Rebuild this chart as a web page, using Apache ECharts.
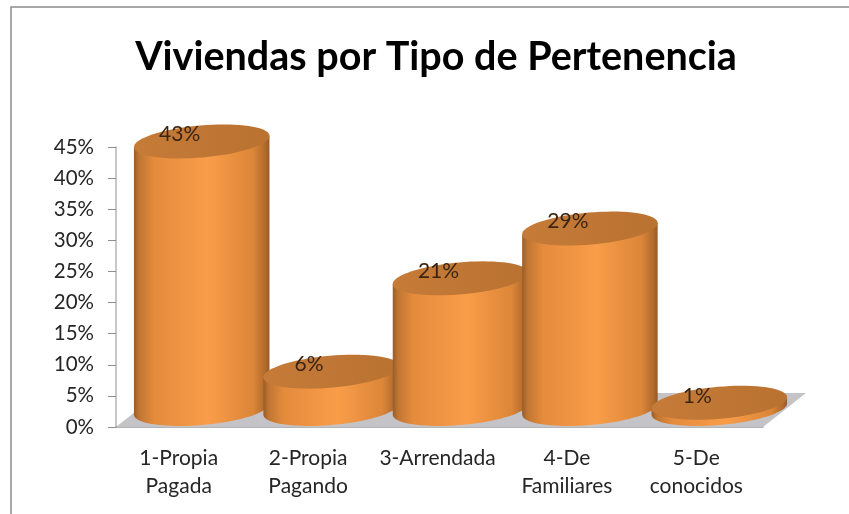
<!DOCTYPE html>
<html>
<head>
<meta charset="utf-8">
<title>Viviendas por Tipo de Pertenencia</title>
<style>
html, body { margin: 0; padding: 0; background: #fff; }
#chart { width: 849px; height: 514px; }
</style>
<script src="https://cdn.jsdelivr.net/npm/echarts@6/dist/echarts.min.js"></script>
</head>
<body>
<div id="chart"></div>
<script>
const categories = ['1-Propia\nPagada', '2-Propia\nPagando', '3-Arrendada', '4-De\nFamiliares', '5-De\nconocidos']
const percents = [43, 6, 21, 29, 1]
const yTicks = { min: 0, max: 45, interval: 5 }

// fake 3d: cylinders sit behind the axis plane, shifted up and right
const DEPTH_X = 21
const DEPTH_Y = -18
const RX = 68
const RY = 16
const TILT = -5 * Math.PI / 180
const FONT = 'Lato'

function ellipsePoint (cx, cy, t) {
  return [
    cx + RX * Math.cos(t) * Math.cos(TILT) - RY * Math.sin(t) * Math.sin(TILT),
    cy + RX * Math.cos(t) * Math.sin(TILT) + RY * Math.sin(t) * Math.cos(TILT)
  ]
}

function ellipsePoints (cx, cy, from, to, steps) {
  const pts = []
  for (let i = 0; i <= steps; i++) {
    pts.push(ellipsePoint(cx, cy, from + (to - from) * i / steps))
  }
  return pts
}

const bodyGradient = {
  type: 'linear', x: 0, y: 0, x2: 1, y2: 0,
  colorStops: [
    { offset: 0, color: '#9a5c28' },
    { offset: 0.04, color: '#c07633' },
    { offset: 0.15, color: '#e48b3c' },
    { offset: 0.55, color: '#f99d49' },
    { offset: 0.88, color: '#dc8638' },
    { offset: 0.97, color: '#b06a2c' },
    { offset: 1, color: '#965926' }
  ]
}
const topGradient = {
  type: 'linear', x: 0, y: 0, x2: 1, y2: 0,
  colorStops: [
    { offset: 0, color: '#c67b38' },
    { offset: 1, color: '#ba7231' }
  ]
}

function renderFloor (params) {
  const c = params.coordSys
  const bottom = c.y + c.height
  const right = c.x + c.width
  return {
    type: 'polygon',
    shape: {
      points: [[c.x, bottom], [right, bottom], [right + 43, bottom - 34], [c.x + 43, bottom - 34]]
    },
    style: { fill: '#c3c3c8' }
  }
}

function renderCylinder (params, api) {
  const top = api.coord([api.value(0), api.value(1)])
  const base = api.coord([api.value(0), 0])
  const cx = top[0] + DEPTH_X
  const topY = top[1] + DEPTH_Y
  const baseY = base[1] + DEPTH_Y
  const t0 = Math.atan(-(RY / RX) * Math.tan(TILT))
  const lower = ellipsePoints(cx, baseY, t0, t0 + Math.PI, 40)
  const body = lower.concat([ellipsePoint(cx, topY, t0 + Math.PI), ellipsePoint(cx, topY, t0)])
  return {
    type: 'group',
    children: [
      {
        type: 'polygon',
        shape: { points: body },
        style: { fill: bodyGradient }
      },
      {
        type: 'polygon',
        shape: { points: ellipsePoints(cx, topY, 0, Math.PI * 2, 72) },
        style: { fill: topGradient }
      },
      {
        type: 'text',
        z2: 10,
        style: {
          x: top[0] - 1,
          y: top[1] - 25,
          text: api.value(1) + '%',
          fill: '#3a2412',
          font: '21px ' + FONT,
          align: 'center',
          verticalAlign: 'middle'
        }
      }
    ]
  }
}

const myChart = echarts.init(document.getElementById('chart'))
myChart.setOption({
  animation: false,
  backgroundColor: '#fff',
  title: {
    text: 'Viviendas por Tipo de Pertenencia',
    left: 431,
    top: 32,
    textAlign: 'center',
    textStyle: { fontFamily: FONT, fontWeight: 'bold', fontSize: 39.5, color: '#000' }
  },
  graphic: [{
    type: 'polyline',
    silent: true,
    shape: { points: [[11, 514], [11, 7], [849, 7]] },
    style: { stroke: '#8c8c8c', lineWidth: 1.5, fill: null }
  }],
  grid: { left: 116, right: 86, top: 147, bottom: 87 },
  xAxis: {
    type: 'category',
    data: categories,
    axisTick: { show: false },
    axisLine: { lineStyle: { color: '#9a9a9a', width: 1.5 } },
    axisLabel: {
      interval: 0,
      margin: 17,
      padding: [0, 4, 0, 0],
      fontFamily: FONT,
      fontSize: 21,
      lineHeight: 28,
      color: '#262626'
    }
  },
  yAxis: {
    type: 'value',
    min: yTicks.min,
    max: yTicks.max,
    interval: yTicks.interval,
    splitLine: { show: false },
    axisLine: { show: true, lineStyle: { color: '#b5b5b5', width: 1.5 } },
    axisTick: { show: true, length: 8, lineStyle: { color: '#8c8c8c' } },
    axisLabel: {
      margin: 22,
      fontFamily: FONT,
      fontSize: 20.5,
      color: '#262626',
      formatter: '{value}%'
    }
  },
  series: [
    {
      type: 'custom',
      name: 'piso',
      silent: true,
      clip: false,
      z: 1,
      data: [0],
      renderItem: renderFloor
    },
    {
      type: 'custom',
      name: 'Viviendas',
      clip: false,
      z: 2,
      encode: { x: 0, y: 1 },
      data: percents.map((v, i) => [i, v]),
      renderItem: renderCylinder
    }
  ]
})
</script>
</body>
</html>
